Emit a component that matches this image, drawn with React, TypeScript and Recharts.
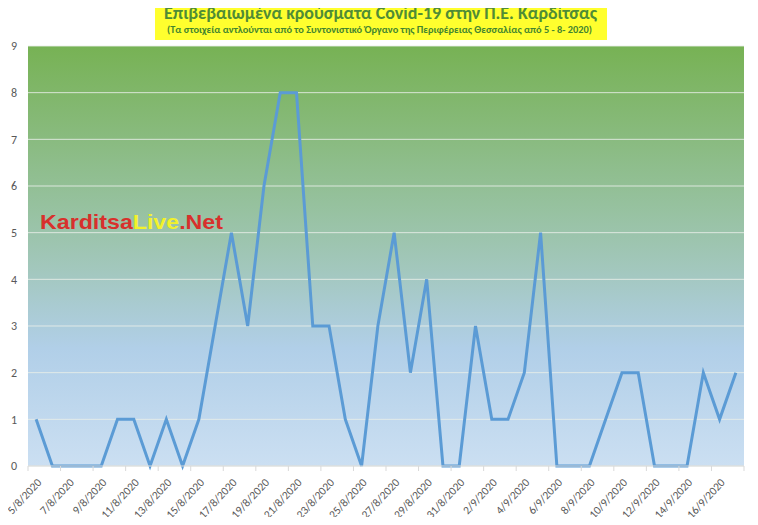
import * as React from 'react'
import { CartesianGrid, Line, LineChart, XAxis, YAxis } from 'recharts'

const dates = [
    '5/8/2020', '6/8/2020', '7/8/2020', '8/8/2020', '9/8/2020', '10/8/2020', '11/8/2020',
    '12/8/2020', '13/8/2020', '14/8/2020', '15/8/2020', '16/8/2020', '17/8/2020', '18/8/2020',
    '19/8/2020', '20/8/2020', '21/8/2020', '22/8/2020', '23/8/2020', '24/8/2020', '25/8/2020',
    '26/8/2020', '27/8/2020', '28/8/2020', '29/8/2020', '30/8/2020', '31/8/2020',
    '1/9/2020', '2/9/2020', '3/9/2020', '4/9/2020', '5/9/2020', '6/9/2020', '7/9/2020',
    '8/9/2020', '9/9/2020', '10/9/2020', '11/9/2020', '12/9/2020', '13/9/2020', '14/9/2020',
    '15/9/2020', '16/9/2020', '17/9/2020',
]

const cases = [
    1, 0, 0, 0, 0, 1, 1, 0, 1, 0, 1, 3, 5, 3, 6, 8, 8, 3, 3, 1, 0, 3, 5, 2, 4, 0, 0,
    3, 1, 1, 2, 5, 0, 0, 0, 1, 2, 2, 0, 0, 0, 2, 1, 2,
]

const yTicks = [0, 1, 2, 3, 4, 5, 6, 7, 8, 9]

const title = 'Επιβεβαιωμένα κρούσματα Covid-19 στην Π.Ε. Καρδίτσας'
const subtitle = '(Τα στοιχεία αντλούνται από το Συντονιστικό Όργανο της Περιφέρειας Θεσσαλίας από 5 - 8- 2020)'

// labels on every other day, tick marks on the boundaries in between
const xTicks: number[] = []
for (let i = 0; i < dates.length; i += 2) {
    xTicks.push(i - 0.5, i)
}
xTicks.push(dates.length - 0.5)

const chartData = dates.map((date, i) => ({ i, date, value: cases[i] }))

const font = 'Calibri, Carlito, "Noto Sans", "Open Sans", sans-serif'

function DateTick(props: any) {
    const { x, y, payload } = props
    const v = payload.value
    if (!Number.isInteger(v)) {
        return <line x1={x} x2={x} y1={y} y2={y + 5} stroke="#d9d9d9" strokeWidth={1} />
    }
    return (
        <text
            x={0}
            y={0}
            transform={`translate(${x + 6},${y + 17}) rotate(-47)`}
            textAnchor="end"
            fontSize={11.5}
            fill="#595959"
            fontFamily={font}
        >
            {dates[v]}
        </text>
    )
}

export default function App() {
    return (
        <div style={{ position: 'relative', width: 758, height: 525, margin: -8, background: '#fff' }}>
            <LineChart
                width={758}
                height={525}
                data={chartData}
                margin={{ top: 46, right: 14, left: 0, bottom: 0 }}
            >
                <defs>
                    <linearGradient id="plotBg" x1="0" y1="0" x2="0" y2="1">
                        <stop offset="0%" stopColor="#77b254" />
                        <stop offset="50%" stopColor="#a0c6b6" />
                        <stop offset="72%" stopColor="#b1cfe8" />
                        <stop offset="100%" stopColor="#cbdff2" />
                    </linearGradient>
                </defs>
                <CartesianGrid
                    vertical={false}
                    stroke="#e9efe9"
                    strokeOpacity={0.85}
                    fill="url(#plotBg)"
                    fillOpacity={1}
                />
                <XAxis
                    type="number"
                    dataKey="i"
                    domain={[-0.5, dates.length - 0.5]}
                    ticks={xTicks}
                    interval={0}
                    height={59}
                    tickSize={0}
                    tickMargin={0}
                    tickLine={false}
                    axisLine={{ stroke: '#d9d9d9' }}
                    tick={<DateTick />}
                />
                <YAxis
                    domain={[0, 9]}
                    ticks={yTicks}
                    interval={0}
                    width={28}
                    axisLine={false}
                    tickLine={false}
                    tickSize={0}
                    tickMargin={11}
                    tick={{ fill: '#595959', fontSize: 12, fontFamily: font }}
                />
                <Line
                    type="linear"
                    dataKey="value"
                    stroke="#5b9bd5"
                    strokeWidth={3}
                    dot={false}
                    activeDot={false}
                    isAnimationActive={false}
                />
            </LineChart>
            <svg
                width={758}
                height={525}
                style={{ position: 'absolute', left: 0, top: 0, pointerEvents: 'none' }}
            >
                <rect x={155} y={0} width={452} height={40} fill="#ffff2e" />
                <text
                    x={164}
                    y={19}
                    fontSize={18.5}
                    fontWeight={600}
                    fill="#4f8c36"
                    fontFamily={font}
                    textLength={433}
                    lengthAdjust="spacingAndGlyphs"
                >
                    {title}
                </text>
                <text
                    x={167}
                    y={33}
                    fontSize={10}
                    fontWeight="bold"
                    fill="#44852f"
                    fontFamily={font}
                    textLength={425}
                    lengthAdjust="spacingAndGlyphs"
                >
                    {subtitle}
                </text>
                <text
                    x={40}
                    y={229}
                    fontSize={21}
                    fontWeight="bold"
                    fontFamily='"Liberation Sans", Arial, sans-serif'
                    textLength={183}
                    lengthAdjust="spacingAndGlyphs"
                >
                    <tspan fill="#d8302c">Karditsa</tspan>
                    <tspan fill="#f2f22a">Live</tspan>
                    <tspan fill="#d8302c">.Net</tspan>
                </text>
            </svg>
        </div>
    )
}
